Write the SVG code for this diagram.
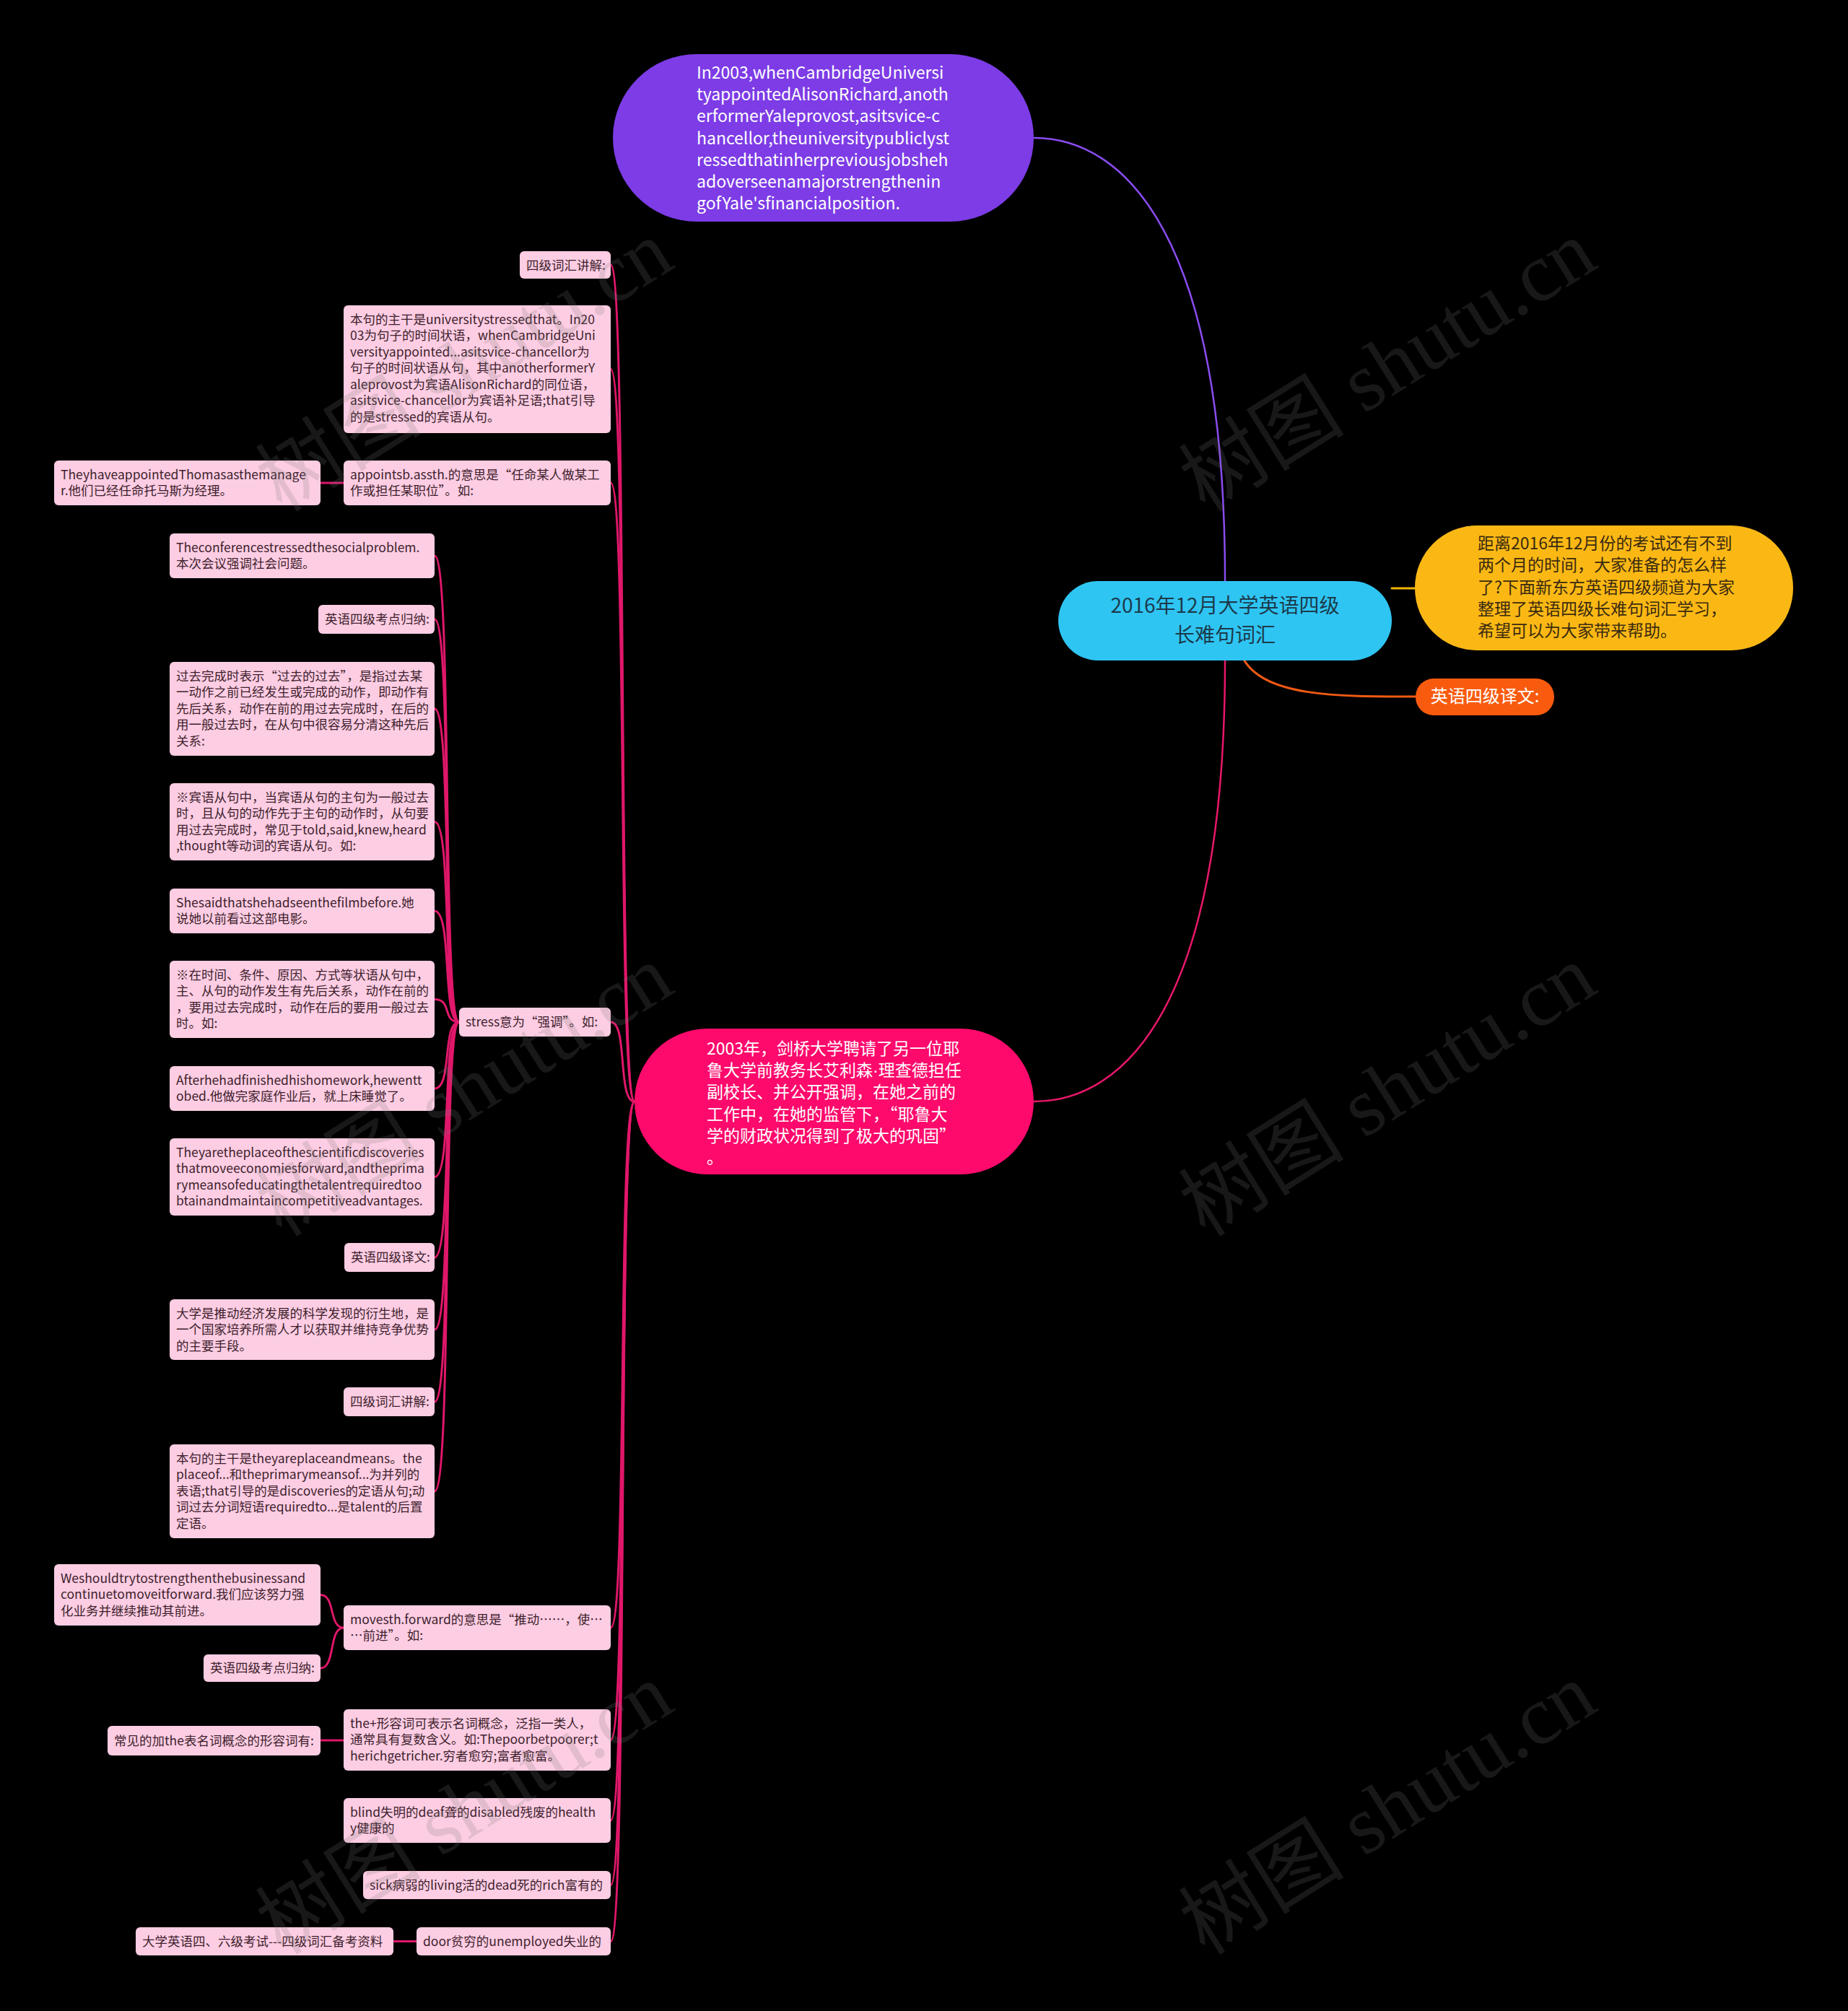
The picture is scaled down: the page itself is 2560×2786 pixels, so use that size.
<svg xmlns="http://www.w3.org/2000/svg" width="2560" height="2786" viewBox="0 0 2560 2786">
<style>
text{font-family:"Noto Sans CJK SC","Microsoft YaHei","Liberation Sans",sans-serif}
.p{fill:#fdcde3}
.pt{font-size:17.5px;fill:#3d1f2d}
.big{font-size:23px}
.w{fill:#ffffff}
.c{fill:none;stroke-linecap:round}
.ck{stroke:#e0176a;stroke-width:3}
.wm{font-family:"Liberation Serif","Noto Sans CJK SC",serif;font-size:115px;fill:#7a7a7a;opacity:0.2}
.nd{font-family:"Liberation Sans",sans-serif}
</style>
<rect width="2560" height="2786" fill="#000000"/>
<g id="connectors">
<path class="c" stroke="#8a4cf0" stroke-width="2.5" d="M1697,805 C1697,330 1560,191 1432,191"/>
<path class="c" stroke="#e8176a" stroke-width="2.5" d="M1697,915 C1697,1390 1560,1526 1432,1526"/>
<path class="c" stroke="#f0b400" stroke-width="3" d="M1928,815 L1960,815"/>
<path class="c" stroke="#f05a14" stroke-width="3" d="M1722,912 C1750,965 1850,965 1961,965"/>
<path class="c ck" d="M879,1526 C855,1526 870,367 846,367"/>
<path class="c ck" d="M879,1526 C855,1526 870,511.5 846,511.5"/>
<path class="c ck" d="M879,1526 C855,1526 870,669 846,669"/>
<path class="c ck" d="M879,1526 C855,1526 870,1416 846,1416"/>
<path class="c ck" d="M879,1526 C855,1526 870,2255 846,2255"/>
<path class="c ck" d="M879,1526 C855,1526 870,2410.5 846,2410.5"/>
<path class="c ck" d="M879,1526 C855,1526 870,2522 846,2522"/>
<path class="c ck" d="M879,1526 C855,1526 870,2611.5 846,2611.5"/>
<path class="c ck" d="M879,1526 C855,1526 870,2689.5 846,2689.5"/>
<path class="c ck" d="M476,669 L444,669"/>
<path class="c ck" d="M636,1416 C612,1416 627,770 602,770"/>
<path class="c ck" d="M636,1416 C612,1416 627,858 602,858"/>
<path class="c ck" d="M636,1416 C612,1416 627,982 602,982"/>
<path class="c ck" d="M636,1416 C612,1416 627,1138.5 602,1138.5"/>
<path class="c ck" d="M636,1416 C612,1416 627,1262 602,1262"/>
<path class="c ck" d="M636,1416 C612,1416 627,1384.5 602,1384.5"/>
<path class="c ck" d="M636,1416 C612,1416 627,1508 602,1508"/>
<path class="c ck" d="M636,1416 C612,1416 627,1630.5 602,1630.5"/>
<path class="c ck" d="M636,1416 C612,1416 627,1742 602,1742"/>
<path class="c ck" d="M636,1416 C612,1416 627,1842 602,1842"/>
<path class="c ck" d="M636,1416 C612,1416 627,1942 602,1942"/>
<path class="c ck" d="M636,1416 C612,1416 627,2066 602,2066"/>
<path class="c ck" d="M476,2255 C455,2255 465,2209.5 444,2209.5"/>
<path class="c ck" d="M476,2255 C455,2255 465,2311 444,2311"/>
<path class="c ck" d="M476,2411 L444,2411"/>
<path class="c ck" d="M577,2689.5 L545,2689.5"/>
</g>
<g id="root">
<rect x="1466" y="805" width="462" height="110" rx="55" fill="#2fc5f3"/>
<text x="1697" y="849" text-anchor="middle" font-size="28" fill="#1b3a4b">2016年12月大学英语四级</text>
<text x="1697" y="889.5" text-anchor="middle" font-size="28" fill="#1b3a4b">长难句词汇</text>
</g>
<g id="intro">
<rect x="1960" y="728" width="524" height="173" rx="86" fill="#fbb814"/>
<text class="big" fill="#3a2a10" x="2047" y="761">距离2016年12月份的考试还有不到</text>
<text class="big" fill="#3a2a10" x="2047" y="791.3">两个月的时间，大家准备的怎么样</text>
<text class="big" fill="#3a2a10" x="2047" y="821.5">了?下面新东方英语四级频道为大家</text>
<text class="big" fill="#3a2a10" x="2047" y="851.8">整理了英语四级长难句词汇学习，</text>
<text class="big" fill="#3a2a10" x="2047" y="882">希望可以为大家带来帮助。</text>
</g>
<g id="translation-label">
<rect x="1961" y="940" width="192" height="51" rx="25" fill="#f95b0e"/>
<text x="2057" y="973" text-anchor="middle" font-size="24" class="w">英语四级译文:</text>
</g>
<g id="english">
<rect x="849" y="75" width="583" height="232" rx="116" fill="#7d3ce6"/>
<text class="big w" x="965" y="109">In2003,whenCambridgeUniversi</text>
<text class="big w" x="965" y="139.2">tyappointedAlisonRichard,anoth</text>
<text class="big w" x="965" y="169.4">erformerYaleprovost,asitsvice-c</text>
<text class="big w" x="965" y="199.6">hancellor,theuniversitypubliclyst</text>
<text class="big w" x="965" y="229.8">ressedthatinherpreviousjobsheh</text>
<text class="big w" x="965" y="260">adoverseenamajorstrengthenin</text>
<text class="big w" x="965" y="290.2">gofYale'sfinancialposition.</text>
</g>
<g id="chinese">
<rect x="879" y="1425" width="553" height="202" rx="101" fill="#fd0a6c"/>
<text class="big w" x="979" y="1461">2003年，剑桥大学聘请了另一位耶</text>
<text class="big w" x="979" y="1491.2">鲁大学前教务长艾利森<tspan class="nd">·</tspan>理查德担任</text>
<text class="big w" x="979" y="1521.4">副校长、并公开强调，在她之前的</text>
<text class="big w" x="979" y="1551.6">工作中，在她的监管下，“耶鲁大</text>
<text class="big w" x="979" y="1581.8">学的财政状况得到了极大的巩固”</text>
<text class="big w" x="979" y="1612">。</text>
</g>
<g id="m1"><rect class="p" x="720" y="348" width="126" height="38" rx="6"/>
<text class="pt" x="729" y="373.5">四级词汇讲解:</text></g>
<g id="m2"><rect class="p" x="476" y="423" width="370" height="177" rx="6"/>
<text class="pt" x="485" y="448.5">本句的主干是universitystressedthat。In20</text>
<text class="pt" x="485" y="471">03为句子的时间状语，whenCambridgeUni</text>
<text class="pt" x="485" y="493.5">versityappointed...asitsvice-chancellor为</text>
<text class="pt" x="485" y="516">句子的时间状语从句，其中anotherformerY</text>
<text class="pt" x="485" y="538.5">aleprovost为宾语AlisonRichard的同位语，</text>
<text class="pt" x="485" y="561">asitsvice-chancellor为宾语补足语;that引导</text>
<text class="pt" x="485" y="583.5">的是stressed的宾语从句。</text></g>
<g id="m3"><rect class="p" x="476" y="638" width="370" height="62" rx="6"/>
<text class="pt" x="485" y="663.5">appointsb.assth.的意思是“任命某人做某工</text>
<text class="pt" x="485" y="686">作或担任某职位”。如:</text></g>
<g id="m3a"><rect class="p" x="75" y="638" width="369" height="62" rx="6"/>
<text class="pt" x="84" y="663.5">TheyhaveappointedThomasasthemanage</text>
<text class="pt" x="84" y="686">r.他们已经任命托马斯为经理。</text></g>
<g id="m4"><rect class="p" x="636" y="1396" width="210" height="40" rx="6"/>
<text class="pt" x="645" y="1422">stress意为“强调”。如:</text></g>
<g id="sa"><rect class="p" x="235" y="739" width="367" height="62" rx="6"/>
<text class="pt" x="244" y="764.5">Theconferencestressedthesocialproblem.</text>
<text class="pt" x="244" y="787">本次会议强调社会问题。</text></g>
<g id="sb"><rect class="p" x="441" y="838" width="161" height="40" rx="6"/>
<text class="pt" x="450" y="864">英语四级考点归纳:</text></g>
<g id="sc"><rect class="p" x="235" y="917" width="367" height="130" rx="6"/>
<text class="pt" x="244" y="942.5">过去完成时表示“过去的过去”，是指过去某</text>
<text class="pt" x="244" y="965">一动作之前已经发生或完成的动作，即动作有</text>
<text class="pt" x="244" y="987.5">先后关系，动作在前的用过去完成时，在后的</text>
<text class="pt" x="244" y="1010">用一般过去时，在从句中很容易分清这种先后</text>
<text class="pt" x="244" y="1032.5">关系:</text></g>
<g id="sd"><rect class="p" x="235" y="1085" width="367" height="107" rx="6"/>
<text class="pt" x="244" y="1110.5">※宾语从句中，当宾语从句的主句为一般过去</text>
<text class="pt" x="244" y="1133">时，且从句的动作先于主句的动作时，从句要</text>
<text class="pt" x="244" y="1155.5">用过去完成时，常见于told,said,knew,heard</text>
<text class="pt" x="244" y="1178">,thought等动词的宾语从句。如:</text></g>
<g id="se"><rect class="p" x="235" y="1231" width="367" height="62" rx="6"/>
<text class="pt" x="244" y="1256.5">Shesaidthatshehadseenthefilmbefore.她</text>
<text class="pt" x="244" y="1279">说她以前看过这部电影。</text></g>
<g id="sf"><rect class="p" x="235" y="1331" width="367" height="107" rx="6"/>
<text class="pt" x="244" y="1356.5">※在时间、条件、原因、方式等状语从句中，</text>
<text class="pt" x="244" y="1379">主、从句的动作发生有先后关系，动作在前的</text>
<text class="pt" x="244" y="1401.5">，要用过去完成时，动作在后的要用一般过去</text>
<text class="pt" x="244" y="1424">时。如:</text></g>
<g id="sg"><rect class="p" x="235" y="1477" width="367" height="62" rx="6"/>
<text class="pt" x="244" y="1502.5">Afterhehadfinishedhishomework,hewentt</text>
<text class="pt" x="244" y="1525">obed.他做完家庭作业后，就上床睡觉了。</text></g>
<g id="sh"><rect class="p" x="235" y="1577" width="367" height="107" rx="6"/>
<text class="pt" x="244" y="1602.5">Theyaretheplaceofthescientificdiscoveries</text>
<text class="pt" x="244" y="1625">thatmoveeconomiesforward,andtheprima</text>
<text class="pt" x="244" y="1647.5">rymeansofeducatingthetalentrequiredtoo</text>
<text class="pt" x="244" y="1670">btainandmaintaincompetitiveadvantages.</text></g>
<g id="si"><rect class="p" x="477" y="1722" width="125" height="40" rx="6"/>
<text class="pt" x="486" y="1748">英语四级译文:</text></g>
<g id="sj"><rect class="p" x="235" y="1800" width="367" height="84" rx="6"/>
<text class="pt" x="244" y="1825.5">大学是推动经济发展的科学发现的衍生地，是</text>
<text class="pt" x="244" y="1848">一个国家培养所需人才以获取并维持竞争优势</text>
<text class="pt" x="244" y="1870.5">的主要手段。</text></g>
<g id="sk"><rect class="p" x="476" y="1922" width="126" height="40" rx="6"/>
<text class="pt" x="485" y="1948">四级词汇讲解:</text></g>
<g id="sl"><rect class="p" x="235" y="2001" width="367" height="130" rx="6"/>
<text class="pt" x="244" y="2026.5">本句的主干是theyareplaceandmeans。the</text>
<text class="pt" x="244" y="2049">placeof...和theprimarymeansof...为并列的</text>
<text class="pt" x="244" y="2071.5">表语;that引导的是discoveries的定语从句;动</text>
<text class="pt" x="244" y="2094">词过去分词短语requiredto...是talent的后置</text>
<text class="pt" x="244" y="2116.5">定语。</text></g>
<g id="m5"><rect class="p" x="476" y="2224" width="370" height="62" rx="6"/>
<text class="pt" x="485" y="2249.5">movesth.forward的意思是“推动……，使…</text>
<text class="pt" x="485" y="2272">…前进”。如:</text></g>
<g id="m5a"><rect class="p" x="75" y="2167" width="369" height="85" rx="6"/>
<text class="pt" x="84" y="2192.5">Weshouldtrytostrengthenthebusinessand</text>
<text class="pt" x="84" y="2215">continuetomoveitforward.我们应该努力强</text>
<text class="pt" x="84" y="2237.5">化业务并继续推动其前进。</text></g>
<g id="m5b"><rect class="p" x="282" y="2292" width="162" height="38" rx="6"/>
<text class="pt" x="291" y="2317">英语四级考点归纳:</text></g>
<g id="m6"><rect class="p" x="476" y="2368" width="370" height="85" rx="6"/>
<text class="pt" x="485" y="2393.5">the+形容词可表示名词概念，泛指一类人，</text>
<text class="pt" x="485" y="2416">通常具有复数含义。如:Thepoorbetpoorer;t</text>
<text class="pt" x="485" y="2438.5">herichgetricher.穷者愈穷;富者愈富。</text></g>
<g id="m6a"><rect class="p" x="149" y="2391" width="295" height="41" rx="6"/>
<text class="pt" x="158" y="2417.5">常见的加the表名词概念的形容词有:</text></g>
<g id="m7"><rect class="p" x="476" y="2491" width="370" height="62" rx="6"/>
<text class="pt" x="485" y="2516.5">blind失明的deaf聋的disabled残废的health</text>
<text class="pt" x="485" y="2539">y健康的</text></g>
<g id="m8"><rect class="p" x="503" y="2592" width="343" height="39" rx="6"/>
<text class="pt" x="512" y="2617.5">sick病弱的living活的dead死的rich富有的</text></g>
<g id="m9"><rect class="p" x="577" y="2670" width="269" height="39" rx="6"/>
<text class="pt" x="586" y="2695.5">door贫穷的unemployed失业的</text></g>
<g id="m9a"><rect class="p" x="188" y="2670" width="357" height="39" rx="6"/>
<text class="pt" x="197" y="2695.5">大学英语四、六级考试---四级词汇备考资料</text></g>
<g id="watermarks">
<text class="wm" text-anchor="middle" transform="translate(643,506) rotate(-32)" y="40">树图 shutu.cn</text>
<text class="wm" text-anchor="middle" transform="translate(1922,506) rotate(-32)" y="40">树图 shutu.cn</text>
<text class="wm" text-anchor="middle" transform="translate(643,1510) rotate(-32)" y="40">树图 shutu.cn</text>
<text class="wm" text-anchor="middle" transform="translate(1922,1510) rotate(-32)" y="40">树图 shutu.cn</text>
<text class="wm" text-anchor="middle" transform="translate(643,2505) rotate(-32)" y="40">树图 shutu.cn</text>
<text class="wm" text-anchor="middle" transform="translate(1922,2505) rotate(-32)" y="40">树图 shutu.cn</text>
</g>
</svg>
